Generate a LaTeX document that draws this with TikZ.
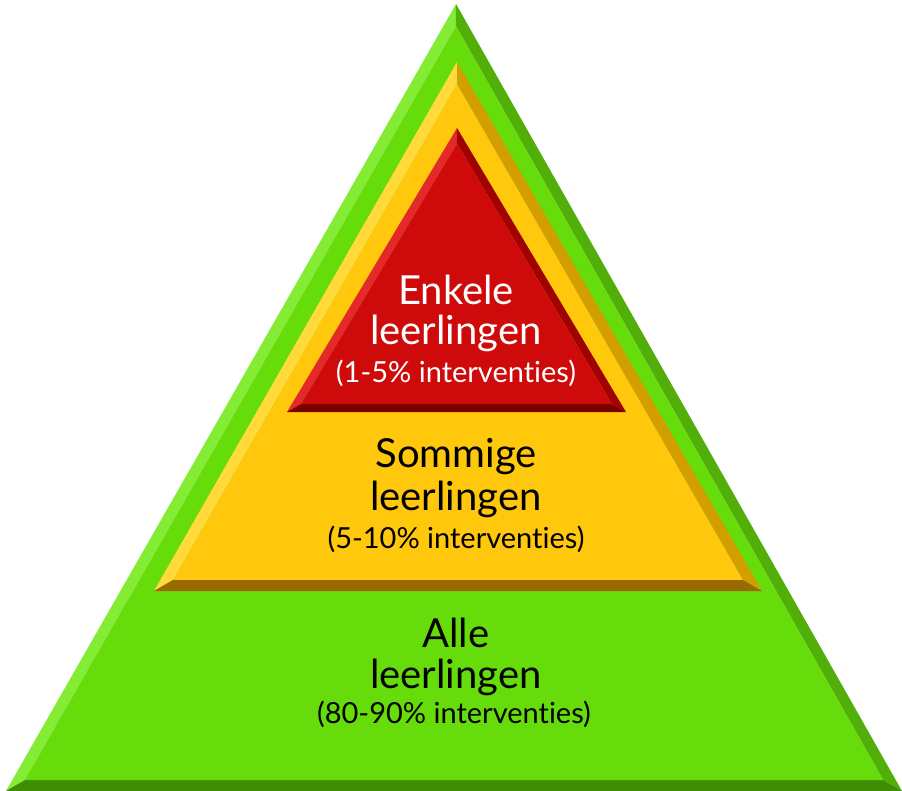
\documentclass[tikz,border=0pt]{standalone}
\usepackage{fontspec}
\setmainfont{Lato}[Ligatures=NoCommon]
\usetikzlibrary{calc}
\definecolor{gM}{HTML}{66DD0A}
\definecolor{gL}{HTML}{84EC34}
\definecolor{gR}{HTML}{52AE08}
\definecolor{gD}{HTML}{3F8C05}
\definecolor{yM}{HTML}{FFC80C}
\definecolor{yL}{HTML}{FFDA3A}
\definecolor{yR}{HTML}{D29E00}
\definecolor{yD}{HTML}{9A6A00}
\definecolor{rM}{HTML}{CE0A0A}
\definecolor{rL}{HTML}{E32A2A}
\definecolor{rR}{HTML}{A00202}
\definecolor{rD}{HTML}{7A0000}
\newcommand{\bevtri}[7]{%
  \coordinate (#1A) at #2;
  \coordinate (#1B) at #3;
  \coordinate (#1C) at #4;
  \coordinate (#1I) at #5;
  \coordinate (#1a) at ($(#1I)!#6!(#1A)$);
  \coordinate (#1b) at ($(#1I)!#6!(#1B)$);
  \coordinate (#1c) at ($(#1I)!#6!(#1C)$);
  \fill[#7L] (#1A) -- (#1B) -- (#1b) -- (#1a) -- cycle;
  \fill[#7R] (#1A) -- (#1C) -- (#1c) -- (#1a) -- cycle;
  \fill[#7D] (#1B) -- (#1C) -- (#1c) -- (#1b) -- cycle;
  \fill[#7M] (#1a) -- (#1b) -- (#1c) -- cycle;
}
\tikzset{
  big/.style={font=\fontsize{40}{42}\selectfont, anchor=base, inner sep=0pt},
  small/.style={font=\fontsize{29}{31}\selectfont, anchor=base, inner sep=0pt},
}
\begin{document}
\begin{tikzpicture}[x=1pt,y=-1pt]
\useasboundingbox (0,0) rectangle (902,791);
\bevtri{g}{(456,4)}{(6,791)}{(902,791)}{(455,530.5)}{0.958}{g}
\bevtri{y}{(457,62)}{(154,591)}{(762,591)}{(457.5,415.1)}{0.937}{y}
\bevtri{r}{(457,128)}{(287,412)}{(626,412)}{(456.8,315.8)}{0.917}{r}
\node[big, white] (r1) at (456,305) {Enkele};
\node[big, white] (r2) at (456,345) {leerlingen};
\node[small, white] (r3) at (456,382) {(1-5\% interventies)};
\node[big] (y1) at (456,467) {Sommige};
\node[big] (y2) at (456,510) {leerlingen};
\node[small] (y3) at (456,548) {(5-10\% interventies)};
\node[big] (g1) at (456,647) {Alle};
\node[big] (g2) at (456,688) {leerlingen};
\node[small] (g3) at (454,723) {(80-90\% interventies)};
\end{tikzpicture}
\end{document}
